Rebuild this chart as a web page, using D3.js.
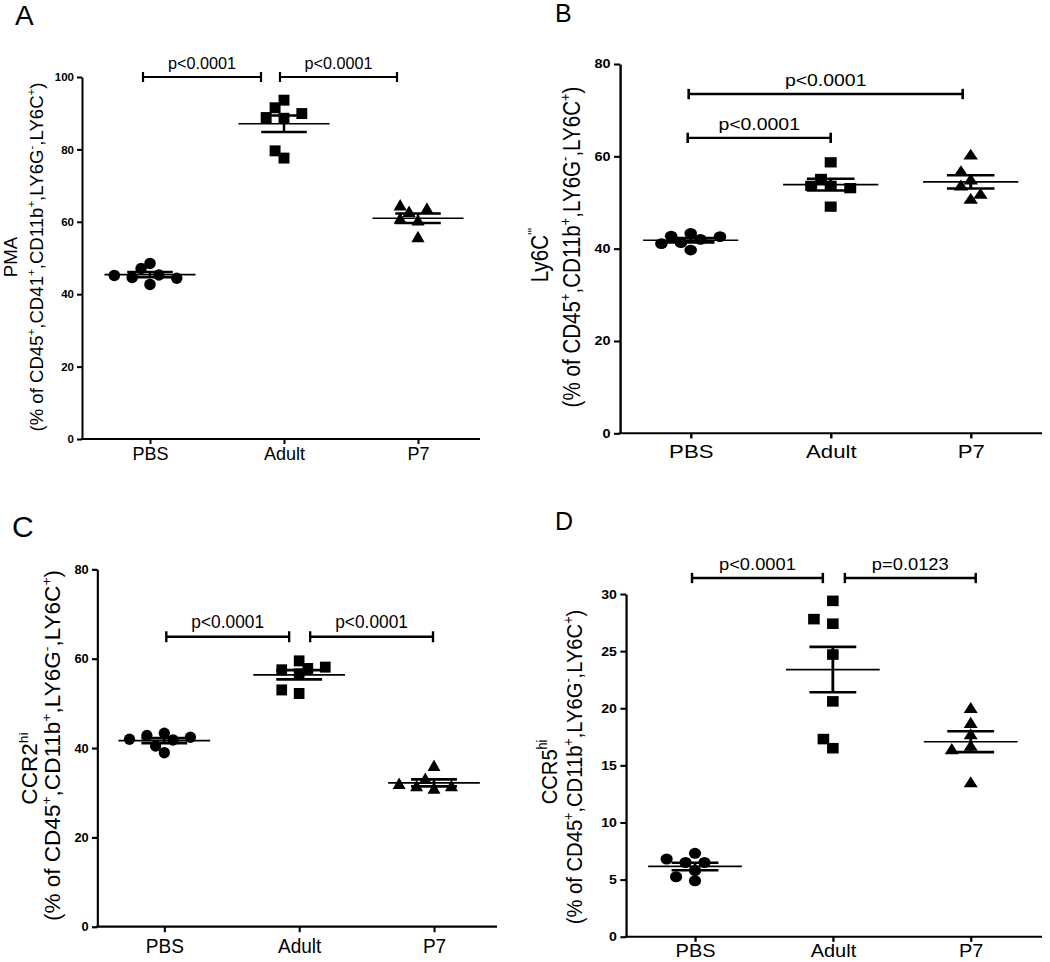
<!DOCTYPE html>
<html><head><meta charset="utf-8">
<script src="https://cdn.jsdelivr.net/npm/d3@7"></script>
<style>
body{margin:0;background:#fff;}
svg{display:block;}
text{font-family:"Liberation Sans",Arial,Helvetica,sans-serif;fill:#000;}
</style>
</head><body>
<svg id="chart" width="1050" height="962"></svg>
<script>
// ---------------- DATA ----------------
const categories = ["PBS", "Adult", "P7"];

// Panel A – PMA
const pmaPBS   = [48.5, 42.7, 47.1, 45.3, 44.6, 44.4, 45.2];
const pmaAdult = [93.6, 77.6, 88.6, 91.5, 88.8, 89.9, 79.6];
const pmaP7    = [60.0, 55.4, 60.5, 62.4, 63.3, 64.2];
const ticksA   = [0, 20, 40, 60, 80, 100];
const bracketsA = [
  {from: "PBS",   to: "Adult", value: 100, label: "p<0.0001"},
  {from: "Adult", to: "P7",    value: 100, label: "p<0.0001"}
];

// Panel B – Ly6C hi
const ly6cPBS   = [43.3, 39.7, 42.7, 42.0, 42.6, 41.3, 41.1];
const ly6cAdult = [58.7, 49.1, 53.6, 55.1, 53.6, 53.1];
const ly6cP7    = [60.1, 54.7, 50.5, 53.4, 56.5, 51.6];
const ticksB    = [0, 20, 40, 60, 80];
const bracketsB = [
  {from: "PBS", to: "P7",    value: 73.5, label: "p<0.0001"},
  {from: "PBS", to: "Adult", value: 64.0, label: "p<0.0001"}
];

// Panel C – CCR2 hi
const ccr2PBS   = [43.3, 38.95, 42.8, 41.8, 42.4, 40.45, 41.95];
const ccr2Adult = [56.6, 52.2, 57.5, 53.0, 57.8, 58.1, 59.5];
const ccr2P7    = [35.7, 30.6, 32.8, 31.2, 31.2, 31.7];
const ticksC    = [0, 20, 40, 60, 80];
const bracketsC = [
  {from: "PBS",   to: "Adult", value: 64.9, label: "p<0.0001"},
  {from: "Adult", to: "P7",    value: 64.9, label: "p<0.0001"}
];

// Panel D – CCR5 hi
const ccr5PBS   = [5.8, 4.9, 6.5, 6.5, 7.3, 6.8, 5.25];
const ccr5Adult = [29.4, 24.7, 20.6, 16.5, 27.4, 27.8, 17.3];
const ccr5P7    = [16.6, 13.4, 18.6, 16.3, 17.6, 19.9];
const ticksD    = [0, 5, 10, 15, 20, 25, 30];
const bracketsD = [
  {from: "PBS",   to: "Adult", value: 31.4, label: "p<0.0001"},
  {from: "Adult", to: "P7",    value: 31.4, label: "p=0.0123"}
];

const yTitleSub = [["(% of CD45"],["+","sup"],[",CD11b"],["+","sup"],[",LY6G"],["-","sup"],[",LY6C"],["+","sup"],[")"]];
const yTitleSubA = [["(% of CD45"],["+","sup"],[",CD41"],["+","sup"],[",CD11b"],["+","sup"],[",LY6G"],["-","sup"],[",LY6C"],["+","sup"],[")"]];

// ---------------- PANELS (layout) ----------------
const panels = [
  {letter: "A", series: [pmaPBS, pmaAdult, pmaP7], ymax: 100, ticks: ticksA, brackets: bracketsA,
   title1: [["PMA"]], title2: yTitleSubA,
   L: {ox: 82, oy: 439, top: 77, xEnd: 480, c0: 150, c2: 418, sx: 1, sy: 1,
       tickFont: 11.5, catFont: 18, catBase: 21, titleFont: 18.6,
       t1x: -65.3, t1y: 257, t2x: -39, t2y: 257, d: 11.5,
       insets: [[-7, -23], [-4, -21]],
       letterX: 15, letterY: 25, letterFont: 28}},
  {letter: "B", series: [ly6cPBS, ly6cAdult, ly6cP7], ymax: 80, ticks: ticksB, brackets: bracketsB,
   title1: [["Ly6C"], ["'''", "sup"]], title2: yTitleSub,
   L: {ox: 620, oy: 433.3, top: 64, xEnd: 1042, c0: 690.7, c2: 970.7, sx: 1.2, sy: 1.03,
       tickFont: 12, catFont: 18.5, catBase: 24.3, titleFont: 20,
       t1x: -60, t1y: 255, t2x: -33.3, t2y: 247, d: 10.5,
       insets: [[-2, -8], [-3, 0]],
       letterX: 555, letterY: 22, letterFont: 25}},
  {letter: "C", series: [ccr2PBS, ccr2Adult, ccr2P7], ymax: 80, ticks: ticksC, brackets: bracketsC,
   title1: [["CCR2"], ["hi", "sup"]], title2: yTitleSub,
   L: {ox: 97.3, oy: 926.7, top: 569.3, xEnd: 497, c0: 164.3, c2: 434, sx: 1.07, sy: 1.1,
       tickFont: 12, catFont: 17.8, catBase: 24.2, titleFont: 20.5,
       t1x: -56.6, t1y: 768.5, t2x: -34.5, t2y: 745.5, d: 10.5,
       insets: [[2, -10], [11, -1]],
       letterX: 12, letterY: 537, letterFont: 30}},
  {letter: "D", series: [ccr5PBS, ccr5Adult, ccr5P7], ymax: 30, ticks: ticksD, brackets: bracketsD,
   title1: [["CCR5"], ["hi", "sup"]], title2: yTitleSub,
   L: {ox: 626, oy: 936.7, top: 594, xEnd: 1042, c0: 695, c2: 970.7, sx: 1.13, sy: 1.03,
       tickFont: 12.5, catFont: 17.7, catBase: 19.8, titleFont: 19.6,
       t1x: -61.3, t1y: 772, t2x: -39, t2y: 767, d: 10.8,
       insets: [[-3, -10], [12, 5]],
       letterX: 555, letterY: 530, letterFont: 25}}
];

const svg = d3.select("#chart");
svg.append("rect").attr("width", 1050).attr("height", 962).attr("fill", "#fff");

// simple dot-plot dodge: spread points that collide into side-by-side slots
function swarm(vals, yS, d) {
  const s = 1.55 * d, h = s / 2, thr = 0.88 * d;
  const placed = [];
  return vals.map(v => {
    const py = yS(v);
    for (let k = 0; k < 60; k++) {
      const m = Math.ceil(k / 2);
      const off = k === 0 ? 0 : (k % 2 === 1 ? -m * h : m * h);
      if (placed.every(p => Math.hypot(p.x - off, p.y - py) >= thr)) {
        placed.push({x: off, y: py});
        return {v: v, dx: off, y: py};
      }
    }
    return {v: v, dx: 0, y: py};
  });
}

// rich text: superscripts raise, the following normal run comes back down
function addRich(textSel, parts, fs) {
  const supFs = fs * 0.62, shift = fs * 0.42;
  let raised = false;
  parts.forEach(p => {
    const t = textSel.append("tspan").style("font-size", (p[1] === "sup" ? supFs : fs) + "px").text(p[0]);
    if (p[1] === "sup") {
      if (!raised) { t.attr("dy", -shift); raised = true; }
    } else if (raised) {
      t.attr("dy", shift); raised = false;
    }
  });
}

const shapes = ["circle", "square", "triangle"];

panels.forEach(P => {
  const L = P.L;
  // panel letter
  svg.append("text").attr("x", L.letterX).attr("y", L.letterY)
     .style("font-size", L.letterFont + "px").text(P.letter);

  const g = svg.append("g").attr("transform", `translate(${L.ox},${L.oy}) scale(${L.sx},${L.sy})`);
  const x = d3.scalePoint().domain(categories)
              .range([(L.c0 - L.ox) / L.sx, (L.c2 - L.ox) / L.sx]);
  const y = d3.scaleLinear().domain([0, P.ymax]).range([0, -(L.oy - L.top) / L.sy]);
  const xEnd = (L.xEnd - L.ox) / L.sx;
  const step = x.step();

  // y axis
  const ya = g.append("g").call(d3.axisLeft(y).tickValues(P.ticks).tickSize(5).tickSizeOuter(0).tickPadding(3).tickFormat(d3.format("d")));
  ya.select(".domain").attr("stroke", "#000").attr("stroke-width", 2);
  ya.selectAll(".tick line").attr("stroke", "#000").attr("stroke-width", 2);
  ya.selectAll(".tick text").style("font-size", L.tickFont + "px").attr("font-weight", "bold")
    .attr("font-family", "'Liberation Sans',Arial,sans-serif").attr("fill", "#000");

  // x axis
  const xa = g.append("g").call(d3.axisBottom(x).tickSize(5).tickSizeOuter(0));
  xa.select(".domain").attr("d", `M-1,0H${xEnd}`).attr("stroke", "#000").attr("stroke-width", 2);
  xa.selectAll(".tick line").attr("stroke", "#000").attr("stroke-width", 2);
  xa.selectAll(".tick text").style("font-size", L.catFont + "px").attr("y", L.catBase).attr("dy", 0)
    .attr("font-family", "'Liberation Sans',Arial,sans-serif").attr("fill", "#000");

  // y titles
  const t1 = g.append("text").attr("text-anchor", "middle")
    .attr("transform", `translate(${L.t1x},${(L.t1y - L.oy) / L.sy}) rotate(-90)`);
  addRich(t1, P.title1, L.titleFont);
  const t2 = g.append("text").attr("text-anchor", "middle")
    .attr("transform", `translate(${L.t2x},${(L.t2y - L.oy) / L.sy}) rotate(-90)`);
  addRich(t2, P.title2, L.titleFont);

  // points + mean/SEM
  P.series.forEach((vals, i) => {
    const cx = x(categories[i]);
    const pts = swarm(vals, y, L.d);
    const shape = shapes[i];
    const gp = g.append("g");
    pts.forEach(p => {
      if (shape === "circle") {
        gp.append("circle").attr("cx", cx + p.dx).attr("cy", p.y).attr("r", L.d / 2).attr("fill", "#000");
      } else if (shape === "square") {
        const s = L.d * 0.95;
        gp.append("rect").attr("x", cx + p.dx - s / 2).attr("y", p.y - s / 2)
          .attr("width", s).attr("height", s).attr("fill", "#000");
      } else {
        const side = L.d * 1.15;
        const area = Math.sqrt(3) / 4 * side * side;
        gp.append("path").attr("d", d3.symbol(d3.symbolTriangle, area)())
          .attr("transform", `translate(${cx + p.dx},${p.y})`).attr("fill", "#000");
      }
    });
    const m = d3.mean(vals);
    const sem = d3.deviation(vals) / Math.sqrt(vals.length);
    const mw = step * 0.34, cw = step * 0.17;
    g.append("line").attr("x1", cx - mw).attr("x2", cx + mw).attr("y1", y(m)).attr("y2", y(m))
      .attr("stroke", "#000").attr("stroke-width", 1.6);
    [m - sem, m + sem].forEach(v => {
      g.append("line").attr("x1", cx - cw).attr("x2", cx + cw).attr("y1", y(v)).attr("y2", y(v))
        .attr("stroke", "#000").attr("stroke-width", 2.5);
    });
    g.append("line").attr("x1", cx).attr("x2", cx).attr("y1", y(m - sem)).attr("y2", y(m + sem))
      .attr("stroke", "#000").attr("stroke-width", 2.5);
  });

  // significance brackets
  P.brackets.forEach((b, j) => {
    const x1 = x(b.from) + L.insets[j][0] / L.sx;
    const x2 = x(b.to) + L.insets[j][1] / L.sx;
    const yy = y(b.value);
    g.append("line").attr("x1", x1).attr("x2", x2).attr("y1", yy).attr("y2", yy)
      .attr("stroke", "#000").attr("stroke-width", 2.2);
    [x1, x2].forEach(xx => {
      g.append("line").attr("x1", xx).attr("x2", xx).attr("y1", yy - 5).attr("y2", yy + 5)
        .attr("stroke", "#000").attr("stroke-width", 2.2);
    });
    g.append("text").attr("x", (x1 + x2) / 2).attr("y", yy - 8).attr("text-anchor", "middle")
      .style("font-size", "16.2px").text(b.label);
  });
});
</script>
</body></html>
